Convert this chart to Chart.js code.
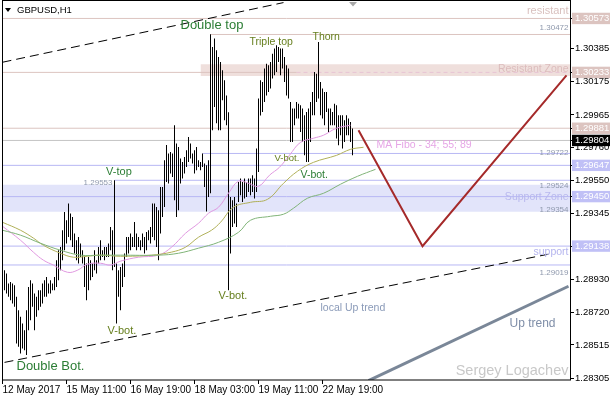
<!DOCTYPE html>
<html>
<head>
<meta charset="utf-8">
<script src="https://cdn.jsdelivr.net/npm/chart.js@4.4.0/dist/chart.umd.min.js"></script>
<style>
  html, body { margin: 0; padding: 0; background: #fff; }
  canvas { display: block; }
</style>
</head>
<body>
<canvas id="chart" width="610" height="400"></canvas>
<script>
// GBPUSD H1 bars (one entry per hour)
const highs = [
  1.28965, 1.28986, 1.28965, 1.28902, 1.28912, 1.28902, 1.28892, 1.28818, 1.28734, 1.28692,
  1.28650, 1.28608, 1.28734, 1.28881, 1.28923, 1.28902, 1.28839, 1.28818, 1.28860, 1.28860,
  1.28902, 1.28923, 1.28944, 1.28902, 1.28923, 1.28902, 1.28944, 1.29049, 1.29112, 1.29133,
  1.29238, 1.29353, 1.29301, 1.29406, 1.29343, 1.29322, 1.29217, 1.29175, 1.29196, 1.29154,
  1.29112, 1.29070, 1.29028, 1.29070, 1.29049, 1.29028, 1.29112, 1.29049, 1.29133, 1.29175,
  1.29112, 1.29133, 1.29133, 1.29154, 1.29259, 1.29238, 1.29553, 1.29028, 1.28986, 1.29007,
  1.29028, 1.29091, 1.29196, 1.29196, 1.29217, 1.29196, 1.29290, 1.29217, 1.29196, 1.29175,
  1.29217, 1.29196, 1.29227, 1.29238, 1.29259, 1.29406, 1.29406, 1.29385, 1.29364, 1.29511,
  1.29511, 1.29679, 1.29776, 1.29721, 1.29731, 1.29721, 1.29900, 1.29784, 1.29763, 1.29690,
  1.29668, 1.29700, 1.29742, 1.29826, 1.29784, 1.29721, 1.29742, 1.29763, 1.29679, 1.29668,
  1.29721, 1.29658, 1.29647, 1.29679, 1.30473, 1.30393, 1.30446, 1.30372, 1.30330, 1.30298,
  1.30246, 1.30183, 1.30088, 1.29981, 1.29448, 1.29427, 1.29448, 1.29406, 1.29542, 1.29564,
  1.29542, 1.29564, 1.29542, 1.29564, 1.29564, 1.29584, 1.29564, 1.29753, 1.30068, 1.30183,
  1.30172, 1.30257, 1.30288, 1.30278, 1.30298, 1.30351, 1.30383, 1.30404, 1.30393, 1.30383,
  1.30383, 1.30330, 1.30278, 1.30257, 1.30046, 1.30005, 1.30005, 1.30046, 1.30036, 1.30026,
  1.30005, 1.29963, 1.29983, 1.30005, 1.30046, 1.30109, 1.30235, 1.30225, 1.30424, 1.30172,
  1.30131, 1.30109, 1.30109, 1.30005, 1.30005, 1.29983, 1.30036, 1.30026, 1.29963, 1.29963,
  1.29963, 1.29931, 1.29963, 1.29942, 1.29921, 1.29879
];
const lows = [
  1.28755, 1.28860, 1.28839, 1.28818, 1.28797, 1.28776, 1.28755, 1.28524, 1.28503, 1.28461,
  1.28493, 1.28482, 1.28451, 1.28608, 1.28671, 1.28755, 1.28608, 1.28692, 1.28734, 1.28755,
  1.28776, 1.28818, 1.28818, 1.28839, 1.28839, 1.28860, 1.28860, 1.28881, 1.28923, 1.28986,
  1.29049, 1.29112, 1.29154, 1.29196, 1.29175, 1.29133, 1.29091, 1.29049, 1.29028, 1.29070,
  1.29028, 1.28881, 1.28797, 1.28860, 1.28923, 1.28944, 1.28986, 1.28965, 1.29028, 1.29049,
  1.29070, 1.29049, 1.29070, 1.29070, 1.29112, 1.28986, 1.29007, 1.28650, 1.28818, 1.28734,
  1.28881, 1.28944, 1.29070, 1.29091, 1.29112, 1.29133, 1.29133, 1.29112, 1.29133, 1.29112,
  1.29133, 1.29091, 1.29112, 1.29175, 1.29154, 1.29196, 1.29175, 1.29133, 1.29049, 1.29217,
  1.29322, 1.29385, 1.29542, 1.29532, 1.29595, 1.29574, 1.29427, 1.29322, 1.29364, 1.29532,
  1.29564, 1.29595, 1.29637, 1.29668, 1.29690, 1.29658, 1.29595, 1.29616, 1.29637, 1.29616,
  1.29637, 1.29511, 1.29356, 1.29448, 1.29471, 1.29868, 1.30015, 1.29912, 1.29868, 1.29868,
  1.30057, 1.29931, 1.29900, 1.28860, 1.29091, 1.29259, 1.29280, 1.29259, 1.29416, 1.29458,
  1.29416, 1.29438, 1.29448, 1.29479, 1.29458, 1.29479, 1.29438, 1.29479, 1.29605, 1.29962,
  1.29983, 1.30046, 1.30088, 1.30109, 1.30131, 1.30194, 1.30215, 1.30235, 1.30298, 1.30215,
  1.30257, 1.30172, 1.30088, 1.30068, 1.29794, 1.29794, 1.29900, 1.29942, 1.29942, 1.29857,
  1.29794, 1.29711, 1.29668, 1.29668, 1.29794, 1.29963, 1.29963, 1.30046, 1.30068, 1.29963,
  1.29942, 1.29900, 1.29983, 1.29857, 1.29900, 1.29900, 1.29900, 1.29816, 1.29774, 1.29837,
  1.29753, 1.29794, 1.29837, 1.29837, 1.29794, 1.29711
];

// moving averages (MA Fibo 34 / 55 / 89), [bar, price]
const ma34 = [
  [0, 1.29263], [9, 1.29175], [15.5, 1.29099], [20.5, 1.29049], [25.5, 1.29018], [32.5, 1.28973],
  [37.5, 1.28986], [42.5, 1.29024], [49, 1.29030], [54, 1.29018], [59, 1.29043], [68, 1.29068],
  [78, 1.29081], [84.5, 1.29131], [91.5, 1.29219], [98, 1.29282], [103, 1.29345], [108, 1.29383],
  [113, 1.29471], [118, 1.29547], [123, 1.29534], [128, 1.29515], [133.5, 1.29585], [138.5, 1.29635],
  [143.5, 1.29711], [149, 1.29792], [155.5, 1.29818], [160.5, 1.29837], [167, 1.29881], [174, 1.29900]
];
const ma55 = [
  [0, 1.29288], [9, 1.29238], [15.5, 1.29188], [20.5, 1.29143], [29, 1.29093], [35.5, 1.29068],
  [42.5, 1.29074], [49, 1.29081], [59, 1.29074], [74.5, 1.29081], [84.5, 1.29100], [91.5, 1.29131],
  [98, 1.29194], [104.5, 1.29238], [109, 1.29288], [115.5, 1.29383], [124, 1.29414], [132.5, 1.29433],
  [140.5, 1.29534], [147.5, 1.29610], [155.5, 1.29666], [167, 1.29710], [174, 1.29748], [180.5, 1.29761]
];
const ma89 = [
  [0, 1.29238], [9, 1.29207], [19, 1.29156], [29, 1.29112], [39, 1.29081], [49, 1.29081],
  [59, 1.29081], [78, 1.29081], [88, 1.29093], [98, 1.29125], [108, 1.29162], [118, 1.29225],
  [124, 1.29301], [134, 1.29326], [140.5, 1.29339], [145.5, 1.29377], [152.5, 1.29440],
  [160.5, 1.29471], [169, 1.29528], [177.5, 1.29578], [186.5, 1.29622]
];

// drawn levels and zones
const resistLevels = [1.30573, 1.30472, 1.30233, 1.29881];
const resistFrom = [0, 104, 0, 0];
const supportLevels = [1.29722, 1.29647, 1.29553, 1.29450, 1.29138, 1.29019];
const supportFrom = [100, 0, 56, 0, 0, 0];
const resistZone = [1.30210, 1.30284];
const supportZone = [1.29354, 1.29524];
const lastPrice = 1.29804;

// trend lines and projection, [bar, price]
const channelTop = [[0, 1.30297], [140.5, 1.30673]];
const channelLow = [[1, 1.28405], [273, 1.29087]];
const upTrend = [[183, 1.28290], [283, 1.28885]];
const projection = [[178, 1.29868], [210, 1.29137], [282, 1.30214]];

// axes
const priceTicks = [1.30385, 1.30175, 1.29965, 1.29760, 1.29550, 1.29345, 1.28930, 1.28720, 1.28515, 1.28305];
const resistMarks = [1.30573, 1.30233, 1.29881];
const supportMarks = [1.29647, 1.29450, 1.29138];
const timeLabels = ['12 May 2017', '15 May 11:00', '16 May 19:00', '18 May 03:00', '19 May 11:00', '22 May 19:00'];
const timeIndex = [0, 32, 64, 96, 128, 160];

const LAST_BAR = 284;
const FONT = '"Liberation Sans", Arial, sans-serif';
const PINK = '#dcc4c0';
const BLUE = '#b8b8f4';
const GREEN = '#2b7d34';
const OLIVE = '#667f1e';
const SMALL = '#8e98ac';

const notes = [
  ['Double top', 89, 1.30529, GREEN, 13],
  ['Triple top', 123.5, 1.30422, OLIVE, 10.5],
  ['Thorn', 155, 1.30454, OLIVE, 10.5],
  ['V-top', 51.8, 1.29603, GREEN, 11],
  ['V-bot.', 136, 1.29692, OLIVE, 9.5],
  ['V-bot.', 149, 1.29585, GREEN, 10.5],
  ['V-bot.', 108, 1.28822, OLIVE, 11],
  ['V-bot.', 52.5, 1.28602, OLIVE, 11],
  ['Double Bot.', 7, 1.28381, GREEN, 13],
  ['local Up trend', 159, 1.28747, '#8a9ab8', 10.5],
  ['Up trend', 253.5, 1.28652, '#7f8ea8', 12],
  ['MA Fibo - 34; 55; 89', 187, 1.29774, '#e6a6e6', 10.5],
  ['resistant', 283, 1.30618, '#d9c1bf', 11, 'right'],
  ['1.30472', 283, 1.30517, SMALL, 8, 'right'],
  ['Resistant Zone', 283, 1.30252, '#dcbcbc', 10.5, 'right'],
  ['1.29722', 283, 1.29726, SMALL, 8, 'right'],
  ['1.29524', 283, 1.29515, SMALL, 8, 'right'],
  ['Support Zone', 283, 1.29446, '#b8b8ee', 10.5, 'right'],
  ['1.29354', 283, 1.29370, SMALL, 8, 'right'],
  ['support', 283, 1.29100, '#b4b4ee', 10.5, 'right'],
  ['1.29019', 283, 1.28967, SMALL, 8, 'right'],
  ['Sergey Logachev', 283, 1.28350, '#c8c8c8', 14.5, 'right'],
  ['1.29553', 55, 1.29540, SMALL, 8, 'right'],
];

const lineSet = (points, color, width, extra) => Object.assign({
  type: 'line',
  data: points.map((p) => ({ x: p[0], y: p[1] })),
  borderColor: color,
  borderWidth: width,
  pointRadius: 0,
  fill: false,
  tension: 0,
}, extra);

const level = (price, from, color, extra) =>
  lineSet([[from, price], [LAST_BAR, price]], color, 1, Object.assign({ order: 9 }, extra));

const markColor = (v) => {
  if (resistMarks.includes(v)) return PINK;
  if (supportMarks.includes(v)) return '#c0c0f6';
  if (v === lastPrice) return '#000';
  return null;
};

const datasets = [
  lineSet([[0, supportZone[1]], [LAST_BAR, supportZone[1]]], 'transparent', 0,
    { fill: { value: supportZone[0] }, backgroundColor: '#e2e4fa', order: 20 }),
  lineSet([[99, resistZone[1]], [LAST_BAR, resistZone[1]]], 'transparent', 0,
    { fill: { value: resistZone[0] }, backgroundColor: '#efdfdc', order: 20 }),
  level(lastPrice, 0, '#c4c4c4'),
];
resistLevels.forEach((p, i) => {
  if (p === 1.30233) {
    datasets.push(level(p, 0, PINK, { data: [{ x: 0, y: p }, { x: 147, y: p }] }));
    datasets.push(level(p, 147, '#e8c4d4', { borderDash: [4, 3] }));
  } else {
    datasets.push(level(p, resistFrom[i], PINK));
  }
});
supportLevels.forEach((p, i) => datasets.push(level(p, supportFrom[i], BLUE)));

datasets.push({
  type: 'bar',
  data: highs.map((h, i) => ({ x: i, y: [lows[i], h] })),
  backgroundColor: '#000',
  borderWidth: 0,
  barThickness: 1,
  inflateAmount: 0,
  grouped: false,
  order: 4,
});
datasets.push(lineSet(ma89, '#80b478', 1, { tension: 0.4, order: 3 }));
datasets.push(lineSet(ma55, '#b0b058', 1, { tension: 0.4, order: 3 }));
datasets.push(lineSet(ma34, '#e098e0', 1, { tension: 0.4, order: 3 }));
datasets.push(lineSet(channelTop, '#000', 1, { borderDash: [9, 5], order: 2 }));
datasets.push(lineSet(channelLow, '#000', 1, { borderDash: [9, 5], order: 2 }));
datasets.push(lineSet(upTrend, '#7a8798', 3, { order: 2 }));
datasets.push(lineSet(projection, '#a52a2a', 2, { order: 1 }));

const chromePlugin = {
  id: 'chrome',
  afterDraw(chart) {
    const { ctx, chartArea: a, scales: { x, y } } = chart;
    ctx.save();
    notes.forEach(([text, bar, price, color, size, align]) => {
      ctx.font = size + 'px ' + FONT;
      ctx.fillStyle = color;
      ctx.textAlign = align || 'left';
      ctx.textBaseline = 'middle';
      ctx.fillText(text, x.getPixelForValue(bar), y.getPixelForValue(price));
    });
    // symbol title
    ctx.fillStyle = '#000';
    ctx.beginPath();
    ctx.moveTo(5, 8); ctx.lineTo(11, 8); ctx.lineTo(8, 12); ctx.closePath();
    ctx.fill();
    ctx.font = '9.5px ' + FONT;
    ctx.textAlign = 'left';
    ctx.fillText('GBPUSD,H1', 17, 10);
    // chart shift marker
    ctx.fillStyle = '#a8a8a8';
    ctx.beginPath();
    ctx.moveTo(349, 2); ctx.lineTo(357, 2); ctx.lineTo(353, 6.5); ctx.closePath();
    ctx.fill();
    // frame
    ctx.strokeStyle = '#000';
    ctx.lineWidth = 1;
    ctx.strokeRect(a.left + 0.5, 0.5, a.right - a.left, a.bottom - 0.5);
    ctx.restore();
  },
};

new Chart(document.getElementById('chart'), {
  type: 'bar',
  data: { datasets },
  options: {
    responsive: false,
    animation: false,
    devicePixelRatio: 1,
    layout: { padding: { left: 2, top: 1, right: 0, bottom: 0 } },
    plugins: { legend: { display: false }, tooltip: { enabled: false } },
    scales: {
      x: {
        type: 'linear',
        offset: false,
        min: -0.25,
        max: 283.75,
        grid: { offset: false, drawOnChartArea: false, drawTicks: true, tickLength: 4, color: '#000' },
        border: { display: false },
        ticks: {
          autoSkip: false,
          maxRotation: 0,
          align: 'start',
          padding: 0,
          color: '#000',
          font: { family: FONT, size: 10 },
          callback: (v) => timeLabels[timeIndex.indexOf(v)],
        },
        afterBuildTicks: (s) => { s.ticks = timeIndex.map((v) => ({ value: v })); },
        afterFit: (s) => { s.height = 20; s.paddingLeft = 0; s.paddingRight = 0; },
      },
      y: {
        type: 'linear',
        position: 'right',
        min: 1.28294,
        max: 1.30683,
        grid: { drawOnChartArea: false, drawTicks: true, tickLength: 4, color: '#000' },
        border: { display: false },
        ticks: {
          autoSkip: false,
          padding: 1,
          font: { family: FONT, size: 9.5 },
          color: (ctx) => (markColor(ctx.tick.value) ? '#fff' : '#000'),
          showLabelBackdrop: (ctx) => !!markColor(ctx.tick.value),
          backdropColor: (ctx) => markColor(ctx.tick.value) || 'transparent',
          backdropPadding: { left: 3, right: 6, top: 0, bottom: 0 },
          callback: (v) => v.toFixed(5),
        },
        afterBuildTicks: (s) => {
          s.ticks = priceTicks.concat(resistMarks, supportMarks, [lastPrice]).map((v) => ({ value: v }));
        },
        afterFit: (s) => { s.width = 40; s.paddingTop = 0; s.paddingBottom = 0; },
      },
    },
  },
  plugins: [chromePlugin],
});
</script>
</body>
</html>
